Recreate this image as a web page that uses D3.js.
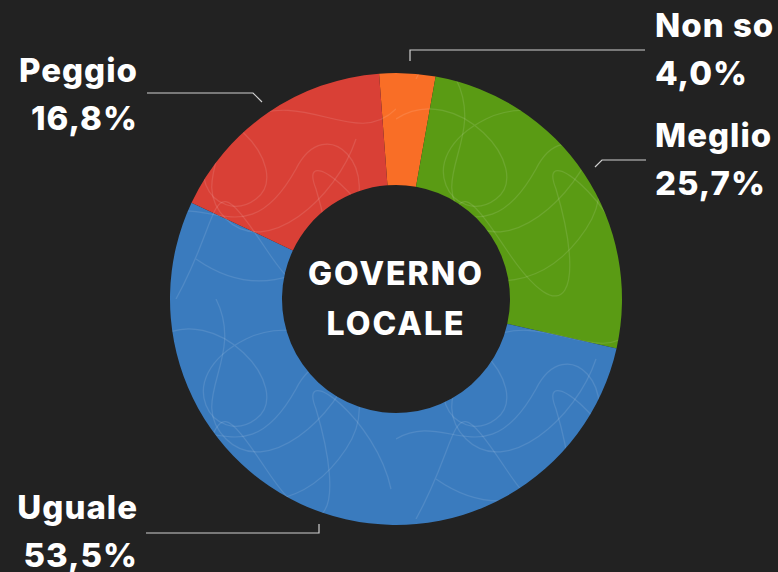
<!DOCTYPE html>
<html>
<head>
<meta charset="utf-8">
<script src="https://cdn.jsdelivr.net/npm/d3@7"></script>
<style>
  html, body { margin: 0; padding: 0; background: #222222; }
  svg { display: block; }
  text { font-family: Inter, Lato, sans-serif; font-weight: 800; fill: #ffffff; }
</style>
</head>
<body>
<div id="chart"></div>
<script>
(function () {
  // ---- data ----
  const categories = ["Non so", "Meglio", "Uguale", "Peggio"];
  const values = [4.0, 25.7, 53.5, 16.8];
  const labels = ["4,0%", "25,7%", "53,5%", "16,8%"];
  const colors = ["#f96e26", "#5a9b14", "#3a7bbe", "#d94036"];
  const centerTitle = ["GOVERNO", "LOCALE"];

  const W = 778, H = 572;
  const cx = 396, cy = 299;
  const outerR = 226, innerR = 114;

  const svg = d3.select("#chart").append("svg")
    .attr("width", W)
    .attr("height", H);

  svg.append("rect").attr("width", W).attr("height", H).attr("fill", "#222222");

  // scribble texture (decorative)
  const defs = svg.append("defs");
  const pat = defs.append("pattern")
    .attr("id", "scribble")
    .attr("patternUnits", "userSpaceOnUse")
    .attr("width", 240).attr("height", 220);
  [
    "M0,40 C60,0 140,90 100,120 S10,80 90,40 C150,10 200,70 240,30",
    "M20,220 C70,130 50,80 110,170 S190,210 160,110 C140,60 220,120 235,190",
    "M0,140 C50,110 90,180 140,90 C170,30 230,90 190,150 S90,215 40,180",
    "M60,0 C90,60 30,100 70,140 S180,120 200,60"
  ].forEach(d => {
    pat.append("path")
      .attr("d", d)
      .attr("fill", "none")
      .attr("stroke", "#ffffff")
      .attr("stroke-opacity", 0.11)
      .attr("stroke-width", 1.2);
  });

  const pie = d3.pie()
    .sort(null)
    .value(d => d)
    .startAngle(-4.3 * Math.PI / 180)
    .endAngle((360 - 4.3) * Math.PI / 180);

  const arcs = pie(values);
  const arc = d3.arc().innerRadius(innerR).outerRadius(outerR);

  const g = svg.append("g").attr("transform", `translate(${cx},${cy})`);

  g.selectAll("path.slice")
    .data(arcs)
    .join("path")
    .attr("class", "slice")
    .attr("d", arc)
    .attr("fill", (d, i) => colors[i]);

  g.selectAll("path.tex")
    .data(arcs)
    .join("path")
    .attr("class", "tex")
    .attr("d", arc)
    .attr("fill", "url(#scribble)");

  // ---- leader lines + labels ----
  const leaders = [
    { pts: [[410, 61], [410, 50], [645, 50]], x: 655, y: 37, anchor: "start" },
    { pts: [[595, 167], [602, 160], [646, 160]], x: 655, y: 147, anchor: "start" },
    { pts: [[319, 524], [319, 533], [146, 533]], x: 138, y: 519, anchor: "end" },
    { pts: [[262, 102], [253, 93], [147, 93]], x: 138, y: 82, anchor: "end" }
  ];

  const line = d3.line();
  svg.selectAll("path.leader")
    .data(leaders)
    .join("path")
    .attr("class", "leader")
    .attr("d", d => line(d.pts))
    .attr("fill", "none")
    .attr("stroke", "#d0d0d0")
    .attr("stroke-width", 1.2);

  const lab = svg.selectAll("text.lab")
    .data(leaders)
    .join("text")
    .attr("class", "lab")
    .attr("text-anchor", d => d.anchor)
    .style("font-size", "33px")
    .style("letter-spacing", "1px");

  lab.append("tspan")
    .attr("x", d => d.x)
    .attr("y", d => d.y)
    .text((d, i) => categories[i]);
  lab.append("tspan")
    .attr("x", d => d.x)
    .attr("y", d => d.y + 48)
    .text((d, i) => labels[i]);

  // ---- centre title ----
  svg.selectAll("text.title")
    .data(centerTitle)
    .join("text")
    .attr("class", "title")
    .attr("x", cx)
    .attr("y", (d, i) => 285 + i * 50)
    .attr("text-anchor", "middle")
    .style("font-size", "32px")
    .style("letter-spacing", "2px")
    .text(d => d);
})();
</script>
</body>
</html>
